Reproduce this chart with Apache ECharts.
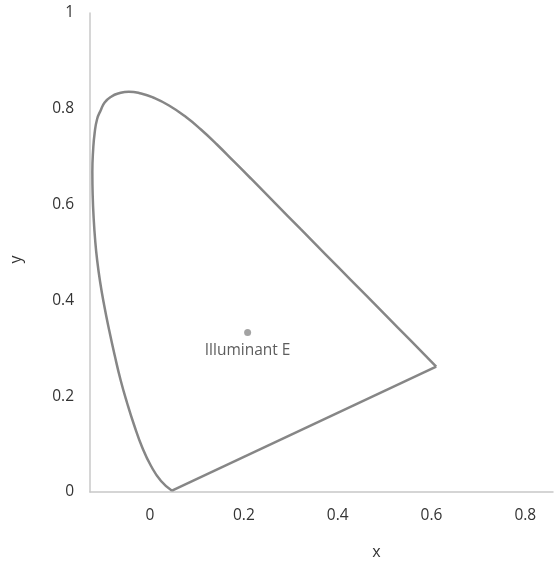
<!DOCTYPE html>
<html>
<head>
<meta charset="utf-8">
<script src="https://cdn.jsdelivr.net/npm/echarts@6/dist/echarts.min.js"></script>
<style>html,body{margin:0;padding:0;background:#fff;}#c{width:554px;height:565px;}</style>
</head>
<body>
<div id="c"></div>
<script>
// Spectral locus: bottom vertex, up the left side, over the top, down to the right vertex
const locusX = [0.0468, 0.0234, 0.0021, -0.0170, -0.0340, -0.0489, -0.0628, -0.0755, -0.0872, -0.0979, -0.1064, -0.1128, -0.1170, -0.1202, -0.1223, -0.1230, -0.1213, -0.1181, -0.1128, -0.1053, -0.0968, -0.0830, -0.0660, -0.0453, -0.0191, 0.0064, 0.0404, 0.0766, 0.1085, 0.1426, 0.1787, 0.2149, 0.2681, 0.3213, 0.3745, 0.4277, 0.4979, 0.5553, 0.6100];
const locusY = [0.0027, 0.0230, 0.0543, 0.0939, 0.1399, 0.1858, 0.2338, 0.2860, 0.3382, 0.3904, 0.4384, 0.4843, 0.5261, 0.5720, 0.6200, 0.6681, 0.7140, 0.7495, 0.7787, 0.7965, 0.8132, 0.8253, 0.8324, 0.8357, 0.8319, 0.8236, 0.8069, 0.7829, 0.7568, 0.7255, 0.6900, 0.6545, 0.6017, 0.5486, 0.4958, 0.4430, 0.3733, 0.3163, 0.2616];
// Line of purples (straight closing segment)
const purpleX = [0.6100, 0.0468];
const purpleY = [0.2616, 0.0027];
// Illuminant E
const pointName = 'Illuminant E';
const pointX = [0.208];
const pointY = [0.333];
// Tick labels
const xTicks = [0, 0.2, 0.4, 0.6, 0.8];
const yTicks = [0, 0.2, 0.4, 0.6, 0.8, 1];
const xName = 'x';
const yName = 'y';

const zip = (a, b) => a.map((v, i) => [v, b[i]]);
const FONT = '"Open Sans", "Noto Sans", sans-serif';
const LINE = '#868686';
const TXT = '#333333';

const chart = echarts.init(document.getElementById('c'));
chart.setOption({
  animation: false,
  backgroundColor: '#ffffff',
  grid: { left: 89, right: 1, top: 13, bottom: 73, containLabel: false },
  xAxis: {
    type: 'value',
    min: -0.128,
    max: 0.859,
    name: xName,
    nameLocation: 'middle',
    nameGap: 52,
    nameTextStyle: { color: TXT, fontSize: 16, fontFamily: FONT, padding: [0, 0, 0, 110] },
    axisLine: { show: true, onZero: false, lineStyle: { color: '#c8c8c8', width: 1.5 } },
    axisTick: { show: false },
    splitLine: { show: false },
    axisLabel: {
      customValues: xTicks,
      color: TXT, fontSize: 15.5, fontFamily: FONT, margin: 16,
      formatter: v => String(+v.toFixed(2))
    }
  },
  yAxis: {
    type: 'value',
    min: 0,
    max: 1,
    interval: 0.2,
    name: yName,
    nameLocation: 'middle',
    nameGap: 66,
    nameTextStyle: { color: TXT, fontSize: 16, fontFamily: FONT, padding: [0, 14, 0, 0] },
    axisLine: { show: true, onZero: false, lineStyle: { color: '#c8c8c8', width: 1.5 } },
    axisTick: { show: false },
    splitLine: { show: false },
    axisLabel: {
      customValues: yTicks,
      color: TXT, fontSize: 15.5, fontFamily: FONT, margin: 16,
      formatter: v => String(+v.toFixed(2))
    }
  },
  series: [
    {
      type: 'line',
      data: zip(locusX, locusY),
      smooth: 0.5,
      showSymbol: false,
      lineStyle: { color: LINE, width: 2.5 },
      z: 3
    },
    {
      type: 'line',
      data: zip(purpleX, purpleY),
      showSymbol: false,
      lineStyle: { color: LINE, width: 2.5 },
      z: 3
    },
    {
      type: 'scatter',
      name: pointName,
      data: zip(pointX, pointY),
      symbolSize: 7,
      itemStyle: { color: '#8c8c8c' },
      label: {
        show: true,
        position: 'bottom',
        distance: 7,
        formatter: pointName,
        color: TXT, fontSize: 15.5, fontFamily: FONT
      },
      z: 4
    }
  ]
});
</script>
</body>
</html>
